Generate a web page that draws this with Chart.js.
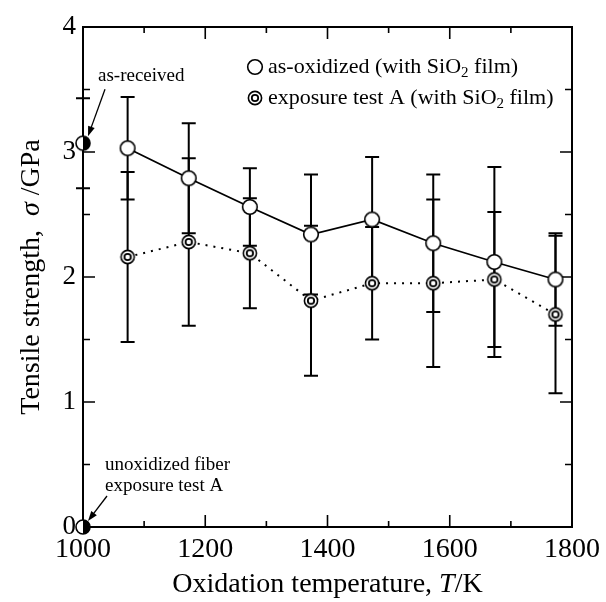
<!DOCTYPE html>
<html>
<head>
<meta charset="utf-8">
<script src="https://cdn.jsdelivr.net/npm/chart.js@4.4.1/dist/chart.umd.min.js"></script>
<style>
  html, body { margin: 0; padding: 0; background: #fff; }
  #wrap { width: 606px; height: 602px; position: relative; }
</style>
</head>
<body>
<div id="wrap"><canvas id="chart"></canvas></div>
<script>
// oxidation temperature (K)
const temperatures = [1073, 1173, 1273, 1373, 1473, 1573, 1673, 1773];
// as-oxidized (with SiO2 film)
const oxidizedStrength = [3.03, 2.79, 2.56, 2.34, 2.46, 2.27, 2.12, 1.98];
const oxidizedError = [0.41, 0.44, 0.31, 0.48, 0.50, 0.55, 0.76, 0.37];
// exposure test A (with SiO2 film)
const exposureStrength = [2.16, 2.28, 2.19, 1.81, 1.95, 1.95, 1.98, 1.70];
const exposureError = [0.68, 0.67, 0.44, 0.60, 0.45, 0.67, 0.54, 0.63];
// reference fibers at the left axis
const refTemps = [1000, 1000];
const refStrength = [3.07, 0];
const refError = [0.36, 0];
const refNotes = [['as-received'], ['unoxidized fiber', 'exposure test A']];

const legendLabels = ['as-oxidized (with SiO2 film)', 'exposure test A (with SiO2 film)'];
const xTitle = 'Oxidation temperature, ';
const yTitle = 'Tensile strength,  ';

const FONT = "'Liberation Serif', 'Times New Roman', serif";

function marker(kind) {
  const s = 22, m = s / 2;
  const c = document.createElement('canvas');
  c.width = c.height = s;
  const g = c.getContext('2d');
  g.strokeStyle = '#000';
  g.lineWidth = 1.6;
  if (kind === 'open') {
    g.beginPath(); g.arc(m, m, 7.3, 0, Math.PI * 2);
    g.fillStyle = '#fff'; g.fill(); g.stroke();
  } else if (kind === 'double') {
    g.beginPath(); g.arc(m, m, 6.6, 0, Math.PI * 2);
    g.fillStyle = '#fff'; g.fill(); g.stroke();
    g.lineWidth = 1.8;
    g.beginPath(); g.arc(m, m, 3.2, 0, Math.PI * 2); g.stroke();
  } else {
    g.beginPath(); g.arc(m, m, 7, 0, Math.PI * 2);
    g.fillStyle = '#fff'; g.fill();
    g.beginPath(); g.arc(m, m, 7, -Math.PI / 2, Math.PI / 2);
    g.fillStyle = '#000'; g.fill();
    g.beginPath(); g.arc(m, m, 7, 0, Math.PI * 2); g.stroke();
  }
  return c;
}

const openMark = marker('open');
const doubleMark = marker('double');
const halfMark = marker('half');

function richText(ctx, text, x, y, size) {
  // draws "SiO2" with a subscript 2
  const parts = text.split(/(SiO)2/);
  let cx = x;
  parts.forEach(p => {
    ctx.font = size + 'px ' + FONT;
    ctx.fillText(p, cx, y);
    cx += ctx.measureText(p).width;
    if (p === 'SiO') {
      ctx.font = Math.round(size * 0.68) + 'px ' + FONT;
      ctx.fillText('2', cx, y + size * 0.28);
      cx += ctx.measureText('2').width;
    }
  });
}

function arrow(ctx, x1, y1, x2, y2) {
  const a = Math.atan2(y2 - y1, x2 - x1);
  ctx.beginPath(); ctx.moveTo(x1, y1); ctx.lineTo(x2 - 6 * Math.cos(a), y2 - 6 * Math.sin(a)); ctx.stroke();
  ctx.beginPath();
  ctx.moveTo(x2, y2);
  ctx.lineTo(x2 - 10 * Math.cos(a) + 3.5 * Math.sin(a), y2 - 10 * Math.sin(a) - 3.5 * Math.cos(a));
  ctx.lineTo(x2 - 10 * Math.cos(a) - 3.5 * Math.sin(a), y2 - 10 * Math.sin(a) + 3.5 * Math.cos(a));
  ctx.closePath(); ctx.fill();
}

const decor = {
  id: 'decor',
  beforeDatasetsDraw(chart) {
    const { ctx, chartArea: a, scales: { x, y } } = chart;
    ctx.save();
    ctx.strokeStyle = '#000';
    ctx.lineCap = 'butt';
    // frame
    ctx.lineWidth = 2;
    ctx.strokeRect(a.left, a.top, a.right - a.left, a.bottom - a.top);
    // inward ticks
    ctx.lineWidth = 1.6;
    for (let v = 1000; v <= 1800; v += 100) {
      const px = x.getPixelForValue(v), len = v % 200 === 0 ? 12 : 6;
      ctx.beginPath();
      ctx.moveTo(px, a.bottom); ctx.lineTo(px, a.bottom - len);
      ctx.moveTo(px, a.top); ctx.lineTo(px, a.top + len);
      ctx.stroke();
    }
    for (let v = 0; v <= 4; v += 0.5) {
      const py = y.getPixelForValue(v), len = v % 1 === 0 ? 12 : 7;
      ctx.beginPath();
      ctx.moveTo(a.left, py); ctx.lineTo(a.left + len, py);
      ctx.moveTo(a.right, py); ctx.lineTo(a.right - len, py);
      ctx.stroke();
    }
    // error bars
    ctx.lineWidth = 2;
    const bars = (xs, ys, es) => xs.forEach((t, i) => {
      if (!es[i]) return;
      const px = x.getPixelForValue(t);
      const top = y.getPixelForValue(ys[i] + es[i]);
      const bot = y.getPixelForValue(ys[i] - es[i]);
      ctx.beginPath();
      ctx.moveTo(px, top); ctx.lineTo(px, bot);
      ctx.moveTo(px - 7, top); ctx.lineTo(px + 7, top);
      ctx.moveTo(px - 7, bot); ctx.lineTo(px + 7, bot);
      ctx.stroke();
    });
    bars(temperatures, oxidizedStrength, oxidizedError);
    bars(temperatures, exposureStrength, exposureError);
    bars(refTemps, refStrength, refError);
    ctx.restore();
  },
  afterDraw(chart) {
    const { ctx, chartArea: a, scales: { x, y } } = chart;
    ctx.save();
    ctx.fillStyle = '#000';
    ctx.strokeStyle = '#000';
    ctx.textBaseline = 'middle';
    ctx.textAlign = 'left';

    // legend
    const marks = [openMark, doubleMark];
    legendLabels.forEach((lab, i) => {
      const ly = 67 + i * 31;
      ctx.drawImage(marks[i], 255 - 11, ly - 11);
      richText(ctx, lab, 268, ly, 22);
    });

    // notes on the reference points
    ctx.font = '19px ' + FONT;
    ctx.lineWidth = 1.3;
    refNotes.forEach((lines, i) => {
      const px = x.getPixelForValue(refTemps[i]);
      const py = y.getPixelForValue(refStrength[i]);
      if (i === 0) {
        ctx.fillText(lines[0], px + 15, py - 67);
        arrow(ctx, px + 22, py - 54, px + 5, py - 7);
      } else {
        lines.forEach((l, j) => ctx.fillText(l, px + 22, py - 62 + j * 21));
        arrow(ctx, px + 24, py - 31, px + 5, py - 6);
      }
    });

    // x title
    ctx.textBaseline = 'alphabetic';
    const cx = (a.left + a.right) / 2;
    const f1 = '28px ' + FONT, fi = 'italic 28px ' + FONT;
    ctx.font = f1; const w1 = ctx.measureText(xTitle).width, w3 = ctx.measureText('/K').width;
    ctx.font = fi; const w2 = ctx.measureText('T').width;
    let sx = cx - (w1 + w2 + w3) / 2;
    ctx.font = f1; ctx.fillText(xTitle, sx, 592);
    ctx.font = fi; ctx.fillText('T', sx + w1, 592);
    ctx.font = f1; ctx.fillText('/K', sx + w1 + w2, 592);

    // y title
    ctx.translate(39, (a.top + a.bottom) / 2);
    ctx.rotate(-Math.PI / 2);
    ctx.font = f1; const v1 = ctx.measureText(yTitle).width, v3 = ctx.measureText(' /GPa').width;
    ctx.font = fi; const v2 = ctx.measureText('\u03c3').width;
    sx = -(v1 + v2 + v3) / 2;
    ctx.font = f1; ctx.fillText(yTitle, sx, 0);
    ctx.font = fi; ctx.fillText('\u03c3', sx + v1, 0);
    ctx.font = f1; ctx.fillText(' /GPa', sx + v1 + v2, 0);
    ctx.restore();
  }
};

new Chart(document.getElementById('chart'), {
  type: 'scatter',
  data: {
    datasets: [
      {
        label: 'as-oxidized',
        data: temperatures.map((t, i) => ({ x: t, y: oxidizedStrength[i] })),
        showLine: true,
        borderColor: '#000',
        borderWidth: 1.8,
        pointStyle: openMark,
        clip: false
      },
      {
        label: 'exposure test A',
        data: temperatures.map((t, i) => ({ x: t, y: exposureStrength[i] })),
        showLine: true,
        borderColor: '#000',
        borderWidth: 2,
        borderDash: [2, 6],
        pointStyle: doubleMark,
        clip: false
      },
      {
        label: 'reference',
        data: refTemps.map((t, i) => ({ x: t, y: refStrength[i] })),
        showLine: false,
        pointStyle: halfMark,
        clip: false
      }
    ]
  },
  options: {
    responsive: true,
    maintainAspectRatio: false,
    animation: false,
    events: [],
    layout: { padding: { top: 27, right: 33, left: 0, bottom: 0 } },
    plugins: { legend: { display: false }, tooltip: { enabled: false } },
    scales: {
      x: {
        type: 'linear',
        min: 1000, max: 1800,
        grid: { display: false, drawTicks: false },
        border: { display: false },
        ticks: { stepSize: 200, color: '#000', padding: 6, maxRotation: 0,
                 callback: v => String(v),
                 font: { family: FONT, size: 28 } },
        afterFit: s => { s.height = 75; }
      },
      y: {
        min: 0, max: 4,
        grid: { display: false, drawTicks: false },
        border: { display: false },
        ticks: { stepSize: 1, color: '#000', padding: 7,
                 callback: v => String(v),
                 font: { family: FONT, size: 27 } },
        afterFit: s => { s.width = 83; }
      }
    }
  },
  plugins: [decor]
});
</script>
</body>
</html>
